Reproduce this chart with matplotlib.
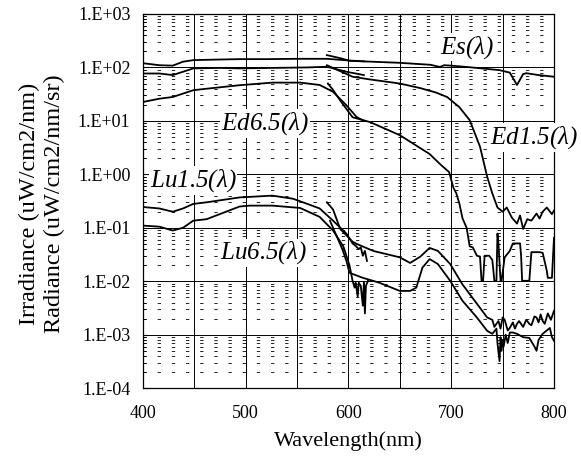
import numpy as np
import matplotlib
matplotlib.use('Agg')
import matplotlib.pyplot as plt
from matplotlib.ticker import FixedLocator, FuncFormatter, LogLocator, NullFormatter

# spectra, each measured in two pieces (400-620 nm and 580-800 nm)
es_wl1 = [400, 416, 429, 439, 449, 470, 494, 520, 550, 579, 600, 615]
es_v1 = [120, 110, 108, 128, 137, 140, 143, 143, 145, 145, 135, 130]
es_wl2 = [579, 592, 601, 650, 680, 689, 693, 700, 720, 747, 757, 764, 770, 773, 785, 800]
es_v2 = [170, 149, 133, 122, 112, 102, 110, 108, 100, 89, 80, 47, 75, 78, 72, 67]

ed15_wl1 = [400, 416, 429, 439, 449, 475, 494, 526, 560, 579, 598, 615]
ed15_v1 = [77, 77, 72, 83, 96, 98, 96, 98, 100, 103, 83, 72]
ed15_wl2 = [579, 592, 604, 620, 650, 670, 685, 696, 708, 718, 728, 735, 740, 745, 750,
            754, 759, 764, 767, 770, 774, 778, 783, 786, 789, 793, 798, 800]
ed15_v2 = [110, 85, 67, 60, 50, 41, 34, 28, 18, 10.3, 3.3, 0.9, 0.44, 0.24, 0.2,
           0.24, 0.155, 0.12, 0.17, 0.095, 0.145, 0.136, 0.185, 0.149, 0.2, 0.24, 0.18, 0.21]

ed65_wl1 = [400, 416, 429, 449, 462, 494, 526, 553, 572, 585, 598, 608, 615]
ed65_v1 = [22.6, 26, 28, 37.5, 40, 46.5, 52, 52, 47, 35, 19.6, 11.8, 10]
ed65_wl2 = [580, 585, 592, 604, 621, 650, 679, 690, 698, 702, 705, 708, 711, 715, 718, 721,
            725, 728, 729.5, 731, 732.5, 737, 740, 742, 744, 745, 746, 748, 749, 752, 757,
            760, 767, 768, 769, 775, 776, 778, 786, 789, 793, 794, 798, 800]
ed65_v2 = [50, 38, 24, 11.7, 9.5, 5.4, 2.4, 1.5, 1.1, 0.57, 0.44, 0.28, 0.15, 0.1, 0.045, 0.043,
           0.03, 0.029, 0.0102, 0.0102, 0.03, 0.03, 0.025, 0.0102, 0.0102, 0.078, 0.05, 0.0102, 0.0102, 0.028, 0.037,
           0.051, 0.051, 0.03, 0.0102, 0.0102, 0.0102, 0.035, 0.035, 0.034, 0.0157, 0.0116, 0.0116, 0.065]

lu15_wl1 = [400, 416, 429, 439, 449, 462, 494, 526, 546, 560, 572, 585, 598,
            604, 607, 610, 612, 614, 616, 618]
lu15_v1 = [0.245, 0.23, 0.2, 0.23, 0.28, 0.30, 0.37, 0.40, 0.35, 0.28, 0.23, 0.136, 0.078,
           0.051, 0.046, 0.04, 0.043, 0.03, 0.037, 0.024]
lu15_wl2 = [579, 585, 592, 604, 608, 624, 650, 660, 670, 679, 687, 699, 711, 725, 735,
            740, 742, 744, 746, 748, 750, 752, 755, 757, 760, 762, 764, 766, 770, 773,
            776, 778, 781, 783, 785, 787, 789, 791, 794, 797, 800]
lu15_v2 = [0.30, 0.22, 0.095, 0.055, 0.05, 0.037, 0.028, 0.022, 0.029, 0.042, 0.037, 0.021, 0.0087, 0.0038, 0.0021,
           0.0019, 0.0014, 0.0016, 0.0018, 0.0013, 0.0021, 0.0019, 0.0012, 0.00134, 0.0017, 0.0013, 0.0016, 0.0018, 0.0014, 0.0019,
           0.0016, 0.0015, 0.0022, 0.0021, 0.0017, 0.0024, 0.0018, 0.0016, 0.0025, 0.0019, 0.0028]

lu65_wl1 = [400, 416, 429, 439, 449, 462, 494, 504, 526, 553, 572, 585, 595, 601,
            604, 606, 607, 609, 610, 612, 614, 615, 616, 617, 619]
lu65_v1 = [0.11, 0.105, 0.089, 0.1, 0.136, 0.145, 0.25, 0.26, 0.26, 0.235, 0.16, 0.089, 0.045, 0.02,
           0.0102, 0.0076, 0.0094, 0.0052, 0.0094, 0.0082, 0.0035, 0.0094, 0.0025, 0.0082, 0.0102]
lu65_wl2 = [582, 594, 598, 601, 614, 630, 650, 660, 666, 672, 679, 687, 699, 711, 725, 735, 740,
            744, 745, 747, 748, 749, 750, 751, 753, 755, 757, 760, 764, 770, 776, 781, 783,
            785, 789, 793, 796, 798, 800]
lu65_v2 = [0.136, 0.04, 0.024, 0.0144, 0.0116, 0.0094, 0.0066, 0.0066, 0.0076, 0.018, 0.026, 0.021, 0.0102, 0.0043, 0.0021, 0.00118, 0.00104,
           0.0013, 0.0007, 0.00032, 0.0009, 0.0005, 0.0008, 0.0006, 0.001, 0.0007, 0.0011, 0.0011, 0.00104, 0.0009, 0.00087, 0.0006, 0.0005,
           0.0008, 0.00104, 0.0012, 0.00134, 0.0009, 0.00077]

# curve labels: text, wavelength, value
labels = ['Es($\\lambda$)', 'Ed1.5($\\lambda$)', 'Ed6.5($\\lambda$)', 'Lu1.5($\\lambda$)', 'Lu6.5($\\lambda$)']
label_wl = [715, 781, 519, 449, 517]
label_v = [240, 4.9, 9.0, 0.77, 0.034]

x_ticks = [400, 500, 600, 700, 800]
x_grid = np.arange(400, 801, 50)
y_ticks = [1e-4, 1e-3, 1e-2, 1e-1, 1e0, 1e1, 1e2, 1e3]

plt.rcParams['font.family'] = ['Liberation Serif', 'DejaVu Serif']
plt.rcParams['mathtext.fontset'] = 'custom'
plt.rcParams['mathtext.it'] = 'Liberation Serif:italic'
plt.rcParams['mathtext.rm'] = 'Liberation Serif'

fig = plt.figure(figsize=(5.81, 4.66), dpi=100)
ax = fig.add_axes([0.246, 0.167, 0.7075, 0.803])

for wl, v in [(es_wl1, es_v1), (es_wl2, es_v2), (ed15_wl1, ed15_v1), (ed15_wl2, ed15_v2),
              (ed65_wl1, ed65_v1), (ed65_wl2, ed65_v2), (lu15_wl1, lu15_v1), (lu15_wl2, lu15_v2),
              (lu65_wl1, lu65_v1), (lu65_wl2, lu65_v2)]:
    ax.plot(wl, v, color='black', lw=1.3, zorder=3)

ax.set_yscale('log')
ax.set_xlim(400, 800)
ax.set_ylim(1e-4, 1e3)
ax.xaxis.set_major_locator(FixedLocator(x_ticks))
ax.xaxis.set_minor_locator(FixedLocator(x_grid))
ax.yaxis.set_major_locator(FixedLocator(y_ticks))
ax.yaxis.set_minor_locator(LogLocator(base=10, subs=np.arange(2, 10)))
ax.yaxis.set_minor_formatter(NullFormatter())
ax.yaxis.set_major_formatter(FuncFormatter(lambda v, p: '1.E%+03d' % int(round(np.log10(v)))))

ax.grid(True, which='major', axis='both', color='black', lw=0.7)
ax.grid(True, which='minor', axis='x', color='black', lw=0.7)
ax.grid(True, which='minor', axis='y', color='black', lw=0.6, linestyle=(0, (4, 13)))
ax.tick_params(axis='y', which='both', direction='in', labelsize=13, pad=9)
ax.tick_params(axis='x', which='both', direction='in', length=0, labelsize=13, pad=12)
for s in ax.spines.values():
    s.set_linewidth(0.9)

ax.set_xlabel('Wavelength(nm)', fontsize=16, labelpad=7)
fig.text(0.05, 0.563, 'Irradiance (uW/cm2/nm)', rotation=90, fontsize=17.5, ha='center', va='center')
fig.text(0.093, 0.563, 'Radiance (uW/cm2/nm/sr)', rotation=90, fontsize=17.5, ha='center', va='center')

for t, x, y in zip(labels, label_wl, label_v):
    ax.text(x, y, t, fontsize=18, style='italic', ha='center', va='center', zorder=4, clip_on=False,
            bbox=dict(facecolor='white', edgecolor='none', pad=0.5))

fig.savefig('out.png', dpi=100)
